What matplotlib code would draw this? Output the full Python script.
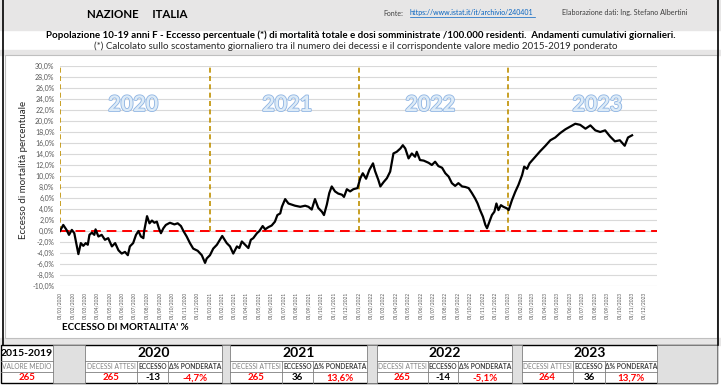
import matplotlib.pyplot as plt
import matplotlib.patheffects as pe
from matplotlib.patches import Rectangle
import pandas as pd

plt.rcParams['font.family'] = ['Lato', 'DejaVu Sans']

# cumulative daily excess (%)
dates = [
    "2020-01-01", "2020-01-09", "2020-01-17", "2020-01-23", "2020-01-30", "2020-02-05",
    "2020-02-15", "2020-02-21", "2020-02-27", "2020-03-04", "2020-03-09", "2020-03-13",
    "2020-03-19", "2020-03-25", "2020-03-28", "2020-04-04", "2020-04-12", "2020-04-20",
    "2020-04-28", "2020-05-07", "2020-05-15", "2020-05-23", "2020-05-31", "2020-06-08",
    "2020-06-15", "2020-06-20", "2020-06-28", "2020-07-05", "2020-07-11", "2020-07-17",
    "2020-07-23", "2020-07-25", "2020-08-01", "2020-08-07", "2020-08-13", "2020-08-19",
    "2020-08-25", "2020-08-30", "2020-09-04", "2020-09-10", "2020-09-16", "2020-09-26",
    "2020-10-07", "2020-10-15", "2020-10-23", "2020-10-29", "2020-11-06", "2020-11-14",
    "2020-11-22", "2020-12-03", "2020-12-13", "2020-12-21", "2020-12-25",
    "2021-01-02", "2021-01-10", "2021-01-19", "2021-01-27", "2021-02-01", "2021-02-12",
    "2021-02-20", "2021-02-28", "2021-03-09", "2021-03-15", "2021-03-21", "2021-03-29",
    "2021-04-06", "2021-04-12", "2021-04-18", "2021-04-27", "2021-05-03", "2021-05-11",
    "2021-05-17", "2021-05-25", "2021-06-02", "2021-06-10", "2021-06-16", "2021-06-23",
    "2021-06-27", "2021-07-05", "2021-07-13", "2021-07-21", "2021-07-29", "2021-08-11",
    "2021-08-23", "2021-08-31", "2021-09-08", "2021-09-16", "2021-09-24", "2021-10-03",
    "2021-10-08", "2021-10-15", "2021-10-21", "2021-10-27", "2021-11-04", "2021-11-12",
    "2021-11-21", "2021-11-26", "2021-12-03", "2021-12-11", "2021-12-19", "2021-12-29",
    "2022-01-05", "2022-01-11", "2022-01-19", "2022-01-27", "2022-02-05", "2022-02-10",
    "2022-02-18", "2022-02-23", "2022-03-03", "2022-03-11", "2022-03-19", "2022-03-27",
    "2022-04-04", "2022-04-13", "2022-04-19", "2022-04-25", "2022-05-03", "2022-05-11",
    "2022-05-19", "2022-05-23", "2022-05-31", "2022-06-09", "2022-06-21", "2022-06-29",
    "2022-07-07", "2022-07-15", "2022-07-24", "2022-08-01", "2022-08-09", "2022-08-17",
    "2022-08-25", "2022-09-02", "2022-09-11", "2022-09-19", "2022-09-27", "2022-10-05",
    "2022-10-13", "2022-10-19", "2022-10-25", "2022-11-01", "2022-11-07", "2022-11-11",
    "2022-11-17", "2022-11-23", "2022-11-29", "2022-12-04", "2022-12-09", "2022-12-15",
    "2022-12-21", "2022-12-30",
    "2023-01-03", "2023-01-11", "2023-01-19", "2023-01-27", "2023-02-05", "2023-02-10",
    "2023-02-17", "2023-02-23", "2023-03-09", "2023-03-21", "2023-04-03", "2023-04-15",
    "2023-04-27", "2023-05-09", "2023-05-22", "2023-06-03", "2023-06-15", "2023-06-27",
    "2023-07-10", "2023-07-22", "2023-08-03", "2023-08-15", "2023-08-27", "2023-09-08",
    "2023-09-20", "2023-10-02", "2023-10-14", "2023-10-22", "2023-11-01",
]
excess = [
    0.0, 1.1, 0.2, -0.7, 0.2, -0.4,
    -4.2, -2.2, -2.7, -2.2, -2.5, -0.7,
    -0.3, -0.7, 0.3, -1.0, -0.7, -1.6,
    -1.3, -2.8, -2.2, -3.5, -4.1, -3.8,
    -4.4, -2.8, -2.2, -0.7, 0.0, -1.0,
    -1.3, 0.0, 2.7, 1.4, 1.9, 1.5,
    1.7, 0.5, -0.4, 0.5, 1.1, 1.5,
    1.2, 1.4, 0.9, 0.0, -1.0, -2.2,
    -3.2, -3.6, -4.4, -5.8, -5.0,
    -4.4, -3.2, -2.5, -1.5, -0.9, -2.2,
    -2.8, -4.1, -2.8, -3.1, -1.9, -2.5,
    -3.1, -1.6, -1.3, -0.4, 0.0, 0.9,
    0.3, 0.7, 1.0, 1.7, 2.9, 3.2,
    4.4, 5.8, 5.0, 4.8, 4.6, 4.4,
    4.6, 4.4, 3.9, 5.8, 4.2, 3.5,
    2.9, 4.8, 6.9, 8.1, 7.2, 6.8,
    6.6, 6.2, 7.6, 7.2, 7.6, 7.8,
    9.6, 10.5, 9.5, 11.1, 12.3, 10.9,
    9.3, 8.1, 8.9, 9.6, 10.8, 14.1,
    14.4, 15.0, 15.6, 15.0, 13.2, 14.1,
    13.5, 14.4, 12.9, 12.8, 12.4, 12.0,
    12.6, 11.8, 11.5, 10.5, 9.9, 8.7,
    8.2, 8.7, 8.1, 8.0, 7.8, 6.9,
    5.9, 5.0, 3.8, 2.6, 1.1, 0.5,
    1.7, 2.9, 3.5, 5.0, 3.8, 4.7,
    4.4, 4.1,
    3.8, 5.6, 7.1, 8.4, 10.2, 11.7,
    11.3, 12.3, 13.5, 14.5, 15.5, 16.5,
    17.0, 17.8, 18.5, 19.0, 19.5, 19.3,
    18.6, 19.2, 18.3, 18.0, 18.3, 17.2,
    16.3, 16.5, 15.5, 17.0, 17.4,
]

years = ["2020", "2021", "2022", "2023"]
year_starts = ["2020-01-01", "2021-01-01", "2022-01-01", "2023-01-01"]
label_dates = ["2020-06-28", "2021-07-10", "2022-06-25", "2023-08-08"]
base_label = "2015-2019"
base_value = "265"
expected = ["265", "265", "265", "264"]
excess_deaths = ["-13", "36", "-14", "36"]
delta_pct = ["-4,7%", "13,6%", "-5,1%", "13,7%"]

W, H = 721, 385
fig = plt.figure(figsize=(W / 100, H / 100), dpi=100)
fig.patch.set_facecolor("white")

# pixel overlay for the sheet decoration
bg = fig.add_axes([0, 0, 1, 1], zorder=0)
bg.set_xlim(0, W)
bg.set_ylim(H, 0)
bg.axis("off")

gray = "#E7E6E6"
bg.add_patch(Rectangle((0, 0), W, 30, color=gray))
bg.add_patch(Rectangle((0, 50), W, 5, color=gray))
bg.add_patch(Rectangle((0, 338), W, 7, color=gray))
bg.add_patch(Rectangle((5, 55), 712, 283, facecolor="white", edgecolor="#BFBFBF", lw=0.8))
bg.plot([3, 3], [0, 345], color="black", lw=1.2)
bg.plot([718, 718], [0, 345], color="black", lw=1.2)

bg.text(87, 14, "NAZIONE     ITALIA", fontsize=8.3, fontweight="bold", va="center")
bg.text(383, 13, "Fonte:", fontsize=5, va="center", color="#404040")
bg.text(410, 13, "https://www.istat.it/it/archivio/240401", fontsize=5, va="center",
        color="#0563C1")
bg.plot([410, 535], [17, 17], color="#0563C1", lw=0.5)
bg.text(562, 13, "Elaborazione dati: Ing. Stefano Albertini", fontsize=5.2, va="center",
        color="#404040")
bg.text(361, 35, "Popolazione 10-19 anni F - Eccesso percentuale (*) di mortalità totale e dosi "
        "somministrate /100.000 residenti.  Andamenti cumulativi giornalieri.",
        fontsize=7, fontweight="bold", ha="center", va="center")
bg.text(356, 46, "(*) Calcolato sullo scostamento giornaliero tra il numero dei decessi e il "
        "corrispondente valore medio 2015-2019 ponderato",
        fontsize=7, ha="center", va="center", color="#262626")
bg.text(24, 170, "Eccesso di mortalità percentuale", fontsize=7, rotation=90,
        ha="center", va="center", color="#262626")
bg.text(62, 327, "ECCESSO DI MORTALITA' %", fontsize=7, fontweight="bold", va="center")

# table
bg.add_patch(Rectangle((1, 345), 716, 38, facecolor="white", edgecolor="black", lw=1))
cols = [(85, 137, 168, 222), (230, 282, 313, 367), (377, 428, 458, 512), (522, 573, 605, 657)]
for x0, x1 in [(53, 85), (222, 230), (367, 377), (512, 522), (657, 717)]:
    bg.add_patch(Rectangle((x0, 345), x1 - x0, 38, facecolor="#E0E0E0",
                           edgecolor="#7F7F7F", lw=0.6))
bg.plot([1, 53], [361, 361], color="#7F7F7F", lw=0.6)
bg.plot([1, 53], [372, 372], color="#7F7F7F", lw=0.6)
bg.text(27, 353, base_label, fontsize=7.5, fontweight="bold", ha="center", va="center")
bg.text(27, 366.5, "VALORE MEDIO", fontsize=4.8, ha="center", va="center", color="#808080")
bg.text(27, 378, base_value, fontsize=7, fontweight="bold", ha="center", va="center",
        color="#FF0000")
for i, (a, b, c, d) in enumerate(cols):
    bg.plot([a, d], [361, 361], color="#7F7F7F", lw=0.6)
    bg.plot([a, d], [372, 372], color="#7F7F7F", lw=0.6)
    for xx in (b, c):
        bg.plot([xx, xx], [361, 383], color="#7F7F7F", lw=0.6)
    bg.text((a + d) / 2, 353, years[i], fontsize=10, fontweight="bold", ha="center",
            va="center")
    bg.text((a + b) / 2, 366.5, "DECESSI ATTESI", fontsize=4.8, ha="center", va="center",
            color="#808080")
    bg.text((b + c) / 2, 366.5, "ECCESSO", fontsize=4.8, fontweight="bold", ha="center",
            va="center", color="#404040")
    bg.text((c + d) / 2, 366.5, "Δ% PONDERATA", fontsize=4.8, fontweight="bold",
            ha="center", va="center", color="#404040")
    bg.text((a + b) / 2, 378, expected[i], fontsize=7, fontweight="bold", ha="center",
            va="center", color="#FF0000")
    bg.text((b + c) / 2, 378, excess_deaths[i], fontsize=7, fontweight="bold",
            ha="center", va="center", color="black")
    bg.text((c + d) / 2, 378, delta_pct[i], fontsize=7, fontweight="bold", ha="center",
            va="center", color="#FF0000")

# main chart
ax = fig.add_axes([60 / W, (H - 286) / H, (657 - 60) / W, (286 - 66) / H], zorder=1)
ax.patch.set_alpha(0)
t = pd.to_datetime(dates)
ax.set_xlim(pd.Timestamp("2020-01-01"), pd.Timestamp("2024-01-01"))
ax.set_ylim(-10, 30)
ax.set_yticks(range(-10, 31, 2))
ax.set_yticklabels([f"{v:.1f}%".replace(".", ",") for v in range(-10, 31, 2)])
ax.grid(axis="y", color="#D9D9D9", lw=0.8)
ax.set_axisbelow(True)
for s in ax.spines.values():
    s.set_visible(False)
ticks = pd.date_range("2020-01-01", "2023-12-01", freq="MS")
ax.set_xticks(ticks)
ax.set_xticklabels([d.strftime("%d/%m/%Y") for d in ticks], rotation=90)
ax.tick_params(axis="x", length=0, pad=4, labelsize=3.5, labelcolor="#595959")
ax.tick_params(axis="y", length=0, pad=4, labelsize=5, labelcolor="#595959")

ax.plot([pd.Timestamp("2020-01-01"), pd.Timestamp("2024-01-01")], [0, 0],
        color="#FF0000", lw=1.4, dashes=(5, 3), zorder=2)
for ys in year_starts:
    ax.plot([pd.Timestamp(ys)] * 2, [0, 30], color="#BF9000", lw=1.2, dashes=(3, 2),
            zorder=2)
ax.plot(t, excess, color="black", lw=1.6, zorder=3)

for y, ld in zip(years, label_dates):
    ax.text(pd.Timestamp(ld), 23, y, fontsize=15.5, fontweight="bold", color="#DDEBF7",
            ha="center", va="center",
            path_effects=[pe.withStroke(linewidth=1.2, foreground="#8EB4E3")])

fig.savefig("out.png", dpi=100)
